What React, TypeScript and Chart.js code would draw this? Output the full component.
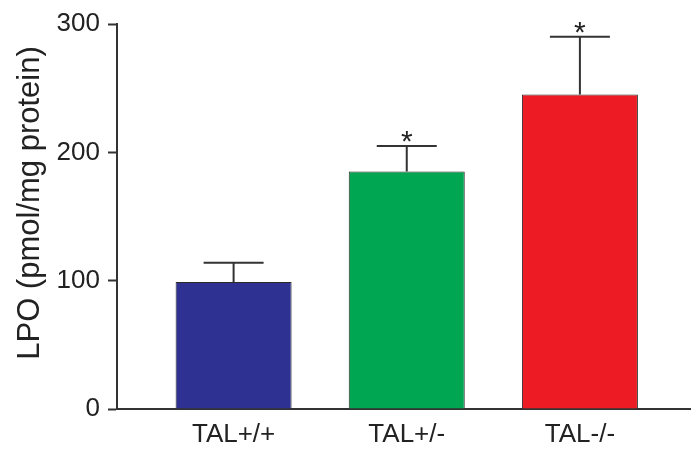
import { useEffect, useRef } from "react";
import { Chart, registerables } from "chart.js";

Chart.register(...registerables);

// Lipid peroxidation by genotype
const groups = ["TAL+/+", "TAL+/-", "TAL-/-"];
const lpoMean = [99, 185, 245];
const lpoSem = [15, 20, 45];
const significance = ["", "*", "*"];
const barColors = ["#2E3192", "#00A651", "#ED1C24"];
const yTicks = [0, 100, 200, 300];
const yTitle = "LPO (pmol/mg protein)";

const FONT = "'Liberation Sans', Arial, Helvetica, sans-serif";
const INK = "#222222";
const LINE = "#333333";

// Upper error whiskers plus significance stars above them
const errorBarPlugin = {
  id: "errorBars",
  afterDatasetsDraw(chart: any) {
    const { ctx } = chart;
    const y = chart.scales.y;
    const meta = chart.getDatasetMeta(0);
    ctx.save();
    ctx.strokeStyle = LINE;
    ctx.lineWidth = 2;
    meta.data.forEach((bar: any, i: number) => {
      const x = bar.x;
      const yTop = y.getPixelForValue(lpoMean[i]);
      const yErr = y.getPixelForValue(lpoMean[i] + lpoSem[i]);
      ctx.beginPath();
      ctx.moveTo(x, yTop);
      ctx.lineTo(x, yErr);
      ctx.moveTo(x - 30, yErr);
      ctx.lineTo(x + 30, yErr);
      ctx.stroke();
      if (significance[i]) {
        ctx.fillStyle = INK;
        ctx.font = `30px ${FONT}`;
        ctx.textAlign = "center";
        ctx.textBaseline = "alphabetic";
        ctx.fillText(significance[i], x, yErr + 5);
      }
    });
    ctx.restore();
  },
};

// Rotated y-axis title
const yTitlePlugin = {
  id: "yTitle",
  afterDraw(chart: any) {
    const { ctx } = chart;
    ctx.save();
    ctx.translate(30, 203);
    ctx.rotate(-Math.PI / 2);
    ctx.fillStyle = INK;
    ctx.font = `31px ${FONT}`;
    ctx.textAlign = "center";
    ctx.textBaseline = "middle";
    ctx.fillText(yTitle, 0, 0);
    ctx.restore();
  },
};

export default function App() {
  const canvasRef = useRef<HTMLCanvasElement | null>(null);

  useEffect(() => {
    const canvas = canvasRef.current;
    if (!canvas) return;
    const chart = new Chart(canvas, {
      type: "bar",
      data: {
        datasets: [
          {
            data: groups.map((_, i) => ({ x: i + 1, y: lpoMean[i] })),
            backgroundColor: barColors,
            borderColor: "#2a2a2a",
            borderWidth: 1,
            barPercentage: 0.67,
            categoryPercentage: 1,
          },
        ],
      },
      options: {
        responsive: false,
        animation: false,
        layout: { padding: { top: 24, right: 0, bottom: 0, left: 0 } },
        plugins: {
          legend: { display: false },
          tooltip: { enabled: false },
        },
        scales: {
          x: {
            type: "linear",
            offset: false,
            min: 0.3266,
            max: 3.6416,
            afterFit: (s: any) => {
              s.height = 42;
            },
            grid: { display: true, drawOnChartArea: false, drawTicks: false },
            border: { display: true, color: LINE, width: 2 },
            ticks: {
              stepSize: 1,
              includeBounds: false,
              autoSkip: false,
              maxRotation: 0,
              padding: 10,
              color: INK,
              font: { size: 26, family: FONT },
              callback: (v: any) => groups[Math.round(v) - 1] ?? "",
            },
          },
          y: {
            min: 0,
            max: 300,
            afterFit: (s: any) => {
              s.width = 117;
            },
            afterBuildTicks: (s: any) => {
              s.ticks = yTicks.map((v) => ({ value: v }));
            },
            grid: {
              drawOnChartArea: false,
              drawTicks: true,
              tickLength: 9,
              tickWidth: 2,
              color: LINE,
            },
            border: { display: true, color: LINE, width: 2 },
            ticks: {
              padding: 8,
              color: INK,
              font: { size: 26, family: FONT },
            },
          },
        },
      },
      plugins: [errorBarPlugin, yTitlePlugin],
    } as any);
    return () => chart.destroy();
  }, []);

  return (
    <div style={{ position: "fixed", left: 0, top: 0, width: 691, height: 451, background: "#fff" }}>
      <canvas ref={canvasRef} width={691} height={451} style={{ display: "block" }} />
    </div>
  );
}
